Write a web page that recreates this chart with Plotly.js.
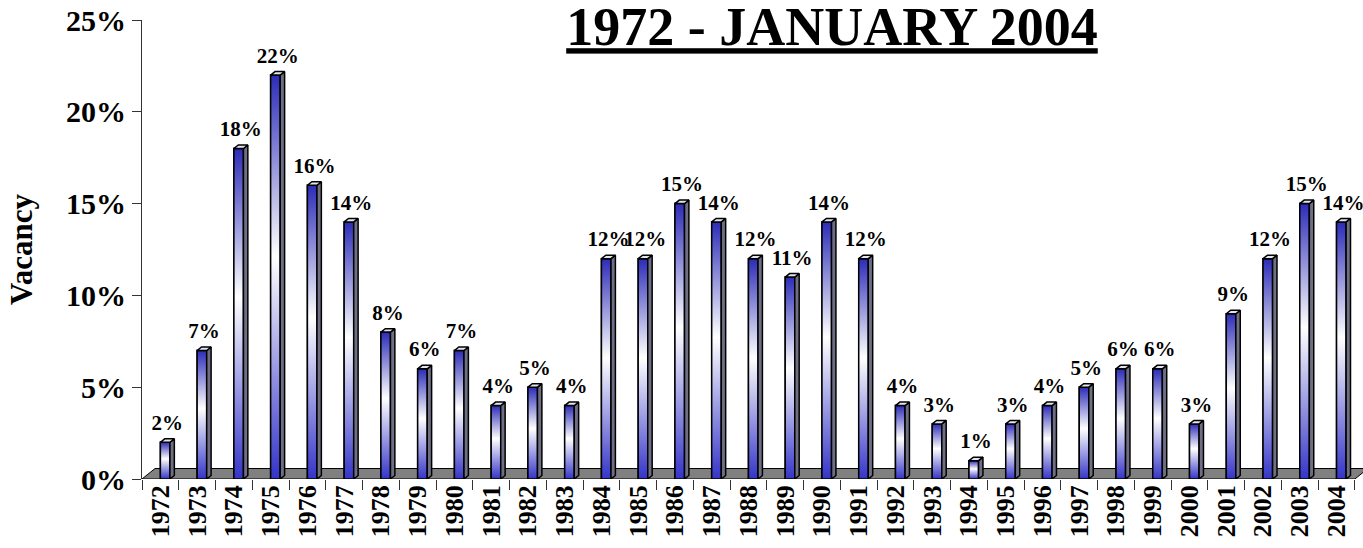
<!DOCTYPE html>
<html>
<head>
<meta charset="utf-8">
<script src="https://cdn.plot.ly/plotly-3.0.1.min.js"></script>
<style>
html,body{margin:0;padding:0;background:#fff;}
#chart{width:1363px;height:548px;}
</style>
</head>
<body>
<div id="chart"></div>
<script>
// ---- data ----
const years = ['1972','1973','1974','1975','1976','1977','1978','1979','1980','1981','1982',
  '1983','1984','1985','1986','1987','1988','1989','1990','1991','1992','1993','1994','1995',
  '1996','1997','1998','1999','2000','2001','2002','2003','2004'];
const vacancy = [2,7,18,22,16,14,8,6,7,4,5,4,12,12,15,14,12,11,14,12,4,3,1,3,4,5,6,6,3,9,12,15,14];
const valueLabels = vacancy.map(v => v + '%');
const yTickVals = [0,5,10,15,20,25];
const yTickText = ['0%','5%','10%','15%','20%','25%'];
const titleText = '1972 - JANUARY 2004';
const yTitle = 'Vacancy';

// ---- style / geometry ----
const FONT = 'Liberation Serif';
const FW = 0.26;   // front-face width (category units)
const DX = 0.12;   // 3D depth offset, x
const DY = 0.19;   // 3D depth offset, y
const idx = years.map((_, i) => i);
const boundaries = idx.map(i => i - 0.5).concat([idx.length - 0.5]);

const traces = [];

// base bars (library bars, front face)
traces.push({
  type: 'bar', x: idx, y: vacancy, width: FW, offset: 0,
  marker: {color: '#3535c5', line: {color: '#000', width: 1.5}},
  hoverinfo: 'skip', showlegend: false
});

// gradient front faces
idx.forEach(i => {
  const v = vacancy[i];
  traces.push({
    type: 'scatter', mode: 'lines',
    x: [i, i + FW, i + FW, i, i], y: [0, 0, v, v, 0],
    fill: 'toself',
    fillgradient: {type: 'vertical',
      colorscale: [[0, '#3434c8'], [0.55, '#ffffff'], [1, '#2c2cb8']]},
    line: {color: '#000', width: 1.5},
    hoverinfo: 'skip', showlegend: false
  });
});

// side and top faces
const sx = [], sy = [], tx = [], ty = [];
idx.forEach(i => {
  const v = vacancy[i];
  sx.push(i + FW, i + FW + DX, i + FW + DX, i + FW, i + FW, null);
  sy.push(0, DY, v + DY, v, 0, null);
  tx.push(i, i + DX, i + FW + DX, i + FW, i, null);
  ty.push(v, v + DY, v + DY, v, v, null);
});
traces.push({type: 'scatter', mode: 'lines', x: sx, y: sy, fill: 'toself',
  fillcolor: '#6e6e84', line: {color: '#000', width: 1.5}, hoverinfo: 'skip', showlegend: false});
traces.push({type: 'scatter', mode: 'lines', x: tx, y: ty, fill: 'toself',
  fillcolor: '#e4e4ec', line: {color: '#000', width: 1.5}, hoverinfo: 'skip', showlegend: false});

// value labels
traces.push({
  type: 'scatter', mode: 'text',
  x: idx.map(i => i + FW / 2 + DX / 2), y: vacancy.map(v => v + DY + 0.2),
  text: valueLabels, textposition: 'top center',
  textfont: {family: FONT, size: 21, color: '#000', weight: 700},
  cliponaxis: false, hoverinfo: 'skip', showlegend: false
});

const layout = {
  width: 1363, height: 548,
  margin: {l: 142, r: 0, t: 20, b: 69},
  paper_bgcolor: '#fff', plot_bgcolor: '#fff',
  showlegend: false,
  font: {family: FONT, color: '#000'},
  title: {
    text: '<u>' + titleText + '</u>',
    font: {family: FONT, size: 54, weight: 700, color: '#000'},
    x: 0.6104, xanchor: 'center', xref: 'container',
    y: 0.952, yanchor: 'middle', yref: 'container'
  },
  xaxis: {
    range: [-0.5, 32.72],
    tickmode: 'array', tickvals: idx, ticktext: years,
    tickangle: -90, ticks: '', ticklen: 0,
    tickfont: {family: FONT, size: 26, weight: 700, color: '#000'},
    showgrid: false, zeroline: false, showline: false,
    minor: {tickmode: 'array', tickvals: boundaries, ticks: 'outside',
      ticklen: 10, tickcolor: '#333', tickwidth: 1, showgrid: false},
    fixedrange: true
  },
  yaxis: {
    range: [0, 25],
    tickmode: 'array', tickvals: yTickVals, ticktext: yTickText,
    ticks: 'outside', ticklen: 9, tickcolor: '#333', tickwidth: 1,
    showline: true, linecolor: '#333', linewidth: 1,
    showgrid: false, zeroline: false,
    tickfont: {family: FONT, size: 30, weight: 700, color: '#000'},
    title: {text: yTitle, font: {family: FONT, size: 31, weight: 700, color: '#000'}, standoff: 24},
    fixedrange: true
  },
  shapes: [{
    type: 'path', layer: 'below', xref: 'x', yref: 'y',
    path: 'M -0.5,0 L -0.146,0.57 L 32.854,0.57 L 32.5,0 Z',
    fillcolor: '#808080', line: {color: '#000', width: 1}
  }]
};

Plotly.newPlot('chart', traces, layout, {displayModeBar: false, staticPlot: true});
</script>
</body>
</html>
